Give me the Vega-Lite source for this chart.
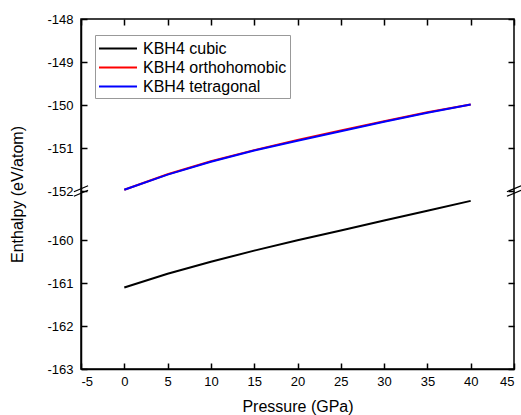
{
  "$schema": "https://vega.github.io/schema/vega-lite/v6.json",
  "width": 433,
  "height": 350,
  "autosize": "none",
  "padding": {"left": 81, "top": 19, "right": 7, "bottom": 46},
  "config": {
    "font": "Liberation Sans",
    "view": {"stroke": "black", "strokeWidth": 1.5},
    "axis": {
      "grid": false,
      "domainColor": "black",
      "domainWidth": 1.5,
      "tickColor": "black",
      "tickWidth": 1.5,
      "tickSize": -6,
      "labelColor": "black",
      "labelFontSize": 13,
      "titleColor": "black",
      "titleFontSize": 16,
      "titleFontWeight": "normal"
    }
  },
  "datasets": {
    "lines": [
      {"P": 0, "H": -161.10, "series": "KBH4 cubic"},
      {"P": 5, "H": -160.78, "series": "KBH4 cubic"},
      {"P": 10, "H": -160.50, "series": "KBH4 cubic"},
      {"P": 15, "H": -160.24, "series": "KBH4 cubic"},
      {"P": 20, "H": -160.00, "series": "KBH4 cubic"},
      {"P": 25, "H": -159.77, "series": "KBH4 cubic"},
      {"P": 30, "H": -159.54, "series": "KBH4 cubic"},
      {"P": 35, "H": -159.31, "series": "KBH4 cubic"},
      {"P": 40, "H": -159.08, "series": "KBH4 cubic"},
      {"P": 0, "H": -151.97, "series": "KBH4 orthohomobic"},
      {"P": 5, "H": -151.61, "series": "KBH4 orthohomobic"},
      {"P": 10, "H": -151.31, "series": "KBH4 orthohomobic"},
      {"P": 15, "H": -151.05, "series": "KBH4 orthohomobic"},
      {"P": 20, "H": -150.815, "series": "KBH4 orthohomobic"},
      {"P": 25, "H": -150.595, "series": "KBH4 orthohomobic"},
      {"P": 30, "H": -150.38, "series": "KBH4 orthohomobic"},
      {"P": 35, "H": -150.17, "series": "KBH4 orthohomobic"},
      {"P": 40, "H": -149.99, "series": "KBH4 orthohomobic"},
      {"P": 0, "H": -151.97, "series": "KBH4 tetragonal"},
      {"P": 5, "H": -151.62, "series": "KBH4 tetragonal"},
      {"P": 10, "H": -151.32, "series": "KBH4 tetragonal"},
      {"P": 15, "H": -151.06, "series": "KBH4 tetragonal"},
      {"P": 20, "H": -150.83, "series": "KBH4 tetragonal"},
      {"P": 25, "H": -150.61, "series": "KBH4 tetragonal"},
      {"P": 30, "H": -150.39, "series": "KBH4 tetragonal"},
      {"P": 35, "H": -150.18, "series": "KBH4 tetragonal"},
      {"P": 40, "H": -149.99, "series": "KBH4 tetragonal"}
    ],
    "breaks": [
      {"P": -5, "H": -152},
      {"P": 45, "H": -152}
    ]
  },
  "layer": [
    {
      "data": {"name": "lines"},
      "mark": {"type": "line", "strokeWidth": 2},
      "encoding": {
        "x": {
          "field": "P", "type": "quantitative",
          "scale": {"domain": [-5, 45], "nice": false, "zero": false},
          "axis": {
            "orient": "bottom", "title": "Pressure (GPa)",
            "values": [-5, 0, 5, 10, 15, 20, 25, 30, 35, 40, 45],
            "labelExpr": "datum.value < 0 ? '-' + abs(datum.value) : datum.label",
            "labelPadding": 12, "titlePadding": 10
          }
        },
        "y": {
          "field": "H", "type": "quantitative",
          "scale": {"domain": [-163, -158.85, -152, -148], "range": [350, 172, 172, 0], "nice": false, "zero": false},
          "axis": {
            "orient": "left", "title": "Enthalpy (eV/atom)",
            "values": [-163, -162, -161, -160, -152, -151, -150, -149, -148],
            "labelExpr": "'-' + abs(datum.value)",
            "labelPadding": 14, "titlePadding": 21
          }
        },
        "color": {
          "field": "series", "type": "nominal",
          "scale": {"domain": ["KBH4 cubic", "KBH4 orthohomobic", "KBH4 tetragonal"], "range": ["black", "#ff0000", "#0000ff"]},
          "legend": {
            "title": null,
            "orient": "none",
            "legendX": 14,
            "legendY": 16,
            "padding": 3,
            "strokeColor": "#999",
            "fillColor": "white",
            "symbolType": "M -1 0 L 3 0",
            "symbolSize": 361,
            "symbolStrokeWidth": 2,
            "labelFontSize": 16,
            "labelColor": "black",
            "labelOffset": 24,
            "rowPadding": 0
          }
        }
      }
    },
    {
      "data": {"name": "breaks"},
      "mark": {"type": "point", "shape": "M -1 0.1 L 1 -0.75 M -1 0.75 L 1 -0.1", "filled": false, "stroke": "black", "strokeWidth": 1.2, "size": 200, "opacity": 1},
      "encoding": {
        "x": {
          "field": "P", "type": "quantitative",
          "axis": {"orient": "top", "title": null, "labels": false, "domain": false, "values": [-5, 0, 5, 10, 15, 20, 25, 30, 35, 40, 45]}
        },
        "y": {
          "field": "H", "type": "quantitative",
          "axis": {"orient": "right", "title": null, "labels": false, "domain": false, "values": [-163, -162, -161, -160, -152, -151, -150, -149, -148]}
        }
      }
    }
  ],
  "resolve": {"axis": {"x": "independent", "y": "independent"}}
}
